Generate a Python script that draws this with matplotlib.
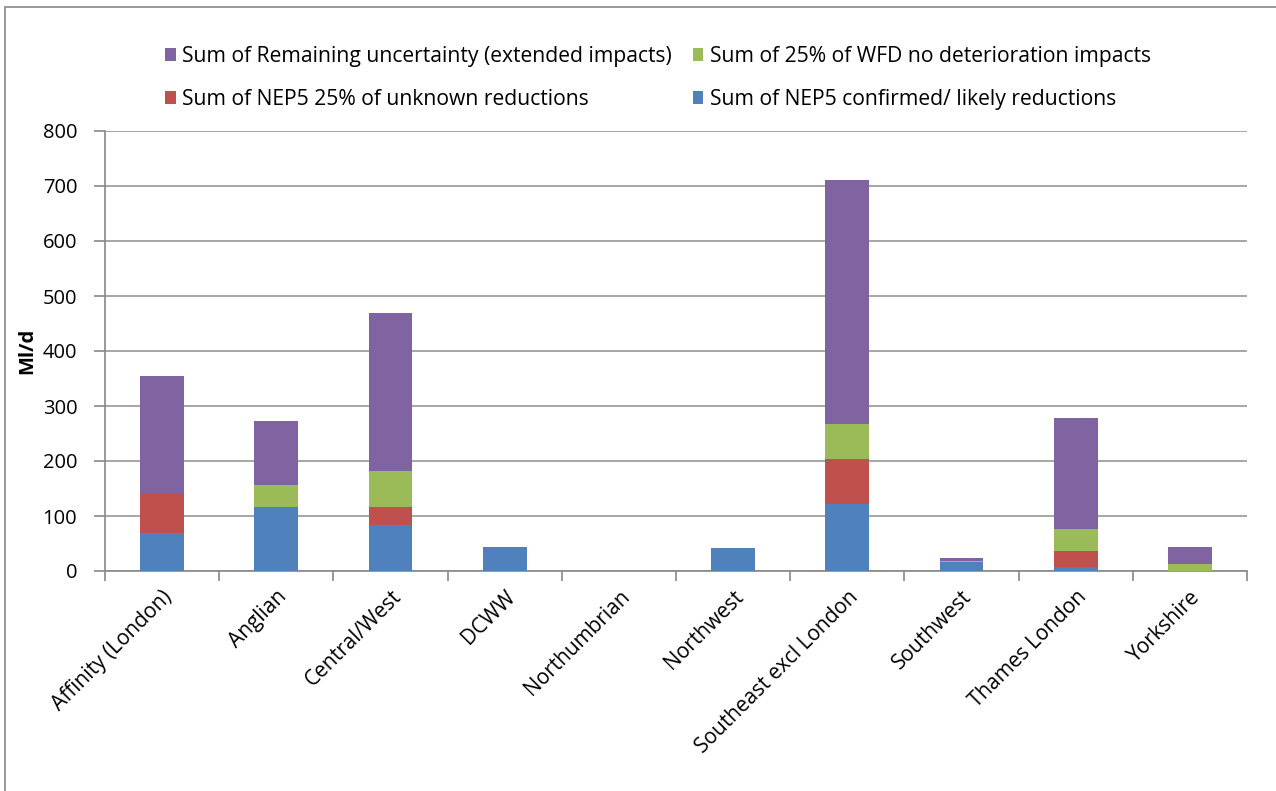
import numpy as np
import matplotlib
matplotlib.use("Agg")
import matplotlib.pyplot as plt
from matplotlib.patches import Rectangle

plt.rcParams['font.family'] = ['Open Sans', 'DejaVu Sans']

regions = ['Affinity (London)', 'Anglian', 'Central/West', 'DCWW', 'Northumbrian',
           'Northwest', 'Southeast excl London', 'Southwest', 'Thames London', 'Yorkshire']

# Ml/d per region, stacked bottom to top
confirmed = [70, 117, 84, 44, 0, 42, 121, 16, 8, 0]
unknown = [70, 0, 33, 0, 0, 0, 82, 0, 29, 0]
wfd = [0, 39, 65, 0, 0, 0, 65, 2, 40, 12]
remaining = [214, 116, 288, 0, 0, 0, 443, 6, 201, 32]

series = [
    ('Sum of NEP5 confirmed/ likely reductions', confirmed, '#4F81BD'),
    ('Sum of NEP5 25% of unknown reductions', unknown, '#C0504D'),
    ('Sum of 25% of WFD no deterioration impacts', wfd, '#9BBB59'),
    ('Sum of Remaining uncertainty (extended impacts)', remaining, '#8064A2'),
]

fig = plt.figure(figsize=(12.76, 7.91), dpi=100)
ax = fig.add_axes([105 / 1276, 1 - 571 / 791, 1142 / 1276, 440 / 791])

# outer chart frame
fig.patches.append(Rectangle((5 / 1276, -0.1), 1.2, 1 - 7 / 791 + 0.1,
                             transform=fig.transFigure, fill=False,
                             edgecolor='#888888', linewidth=1.2))

x = np.arange(len(regions))
bottom = np.zeros(len(regions))
bars = {}
for label, vals, color in series:
    vals = np.array(vals, dtype=float)
    bars[label] = ax.bar(x, vals, width=0.385, bottom=bottom, color=color, label=label, zorder=3)
    bottom += vals

ax.set_xlim(-0.5, len(regions) - 0.5)
ax.set_ylim(0, 800)
ax.set_yticks(np.arange(0, 801, 100))
ax.yaxis.grid(True, color='#a6a6a6', linewidth=1.4, zorder=0)
ax.set_xticks(x)
ax.set_xticklabels(regions, rotation=45, ha='right', rotation_mode='anchor', fontsize=15)
ax.tick_params(axis='x', length=0, pad=11)
ax.set_xticks(np.arange(-0.5, len(regions)), minor=True)
ax.tick_params(axis='x', which='minor', length=7, color='#888888', width=1.2)
ax.tick_params(axis='y', labelsize=14.5, length=8, color='#888888', width=1.2, pad=12)
for s in ['top', 'right']:
    ax.spines[s].set_visible(False)
for s in ['left', 'bottom']:
    ax.spines[s].set_color('#888888')
    ax.spines[s].set_linewidth(1.2)
ax.set_ylabel('Ml/d', fontsize=14.5, fontweight='bold', labelpad=4)

order = [3, 1, 2, 0]
handles = [bars[series[i][0]] for i in order]
labels = [series[i][0] for i in order]
fig.legend(handles, labels, ncol=2, loc='center', bbox_to_anchor=(658 / 1276, 1 - 78 / 791),
           frameon=False, fontsize=15.2, handlelength=0.5, handleheight=0.6,
           handletextpad=0.3, columnspacing=1.0, labelspacing=1.05)

fig.savefig('out.png', dpi=100)
